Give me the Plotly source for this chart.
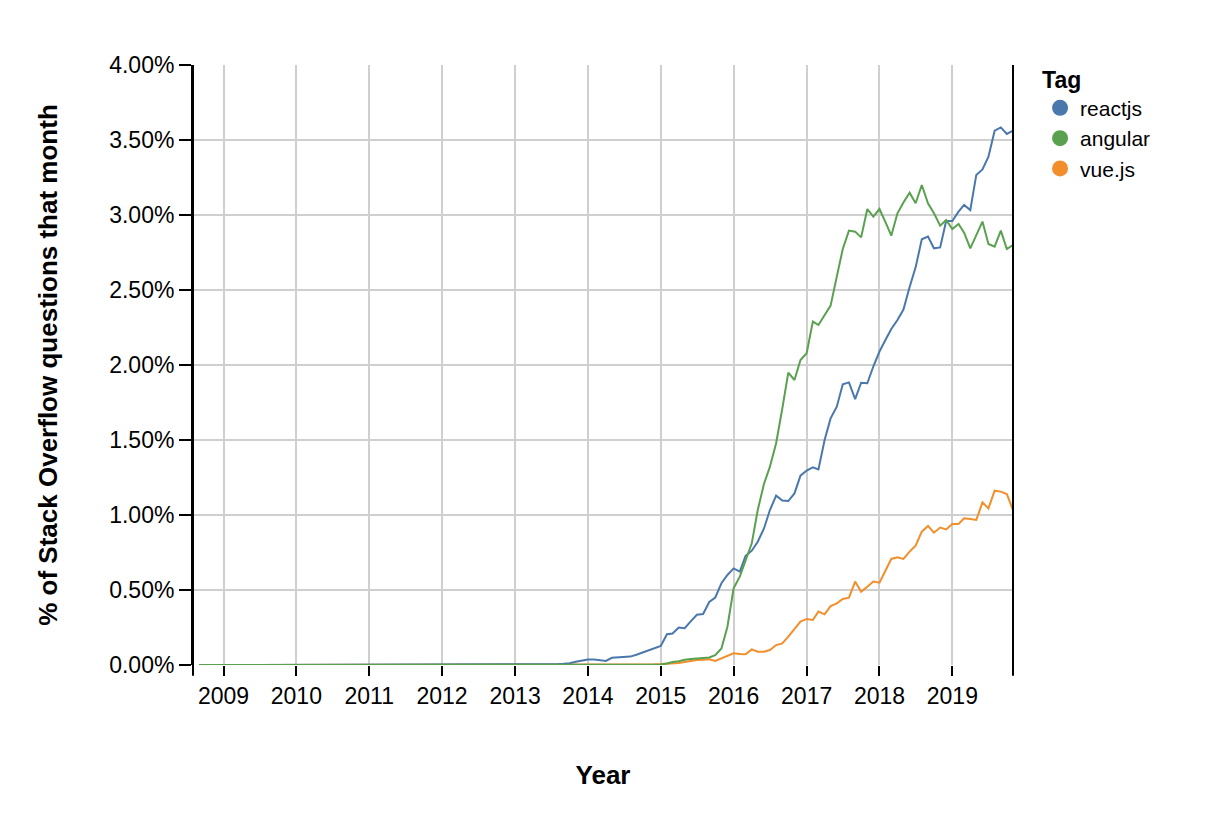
import pandas as pd
import plotly.graph_objects as go

# monthly share of Stack Overflow questions, in percent, Sep 2008 .. Nov 2019
months = pd.date_range("2008-09-01", "2019-11-01", freq="MS")

reactjs = [
    0, 0, 0, 0,  # 2008 Sep-Dec
    0, 0, 0, 0, 0, 0, 0, 0, 0, 0, 0, 0,  # 2009
    0, 0, 0, 0, 0, 0, 0, 0, 0, 0, 0, 0,  # 2010
    0, 0, 0, 0, 0, 0, 0, 0, 0, 0, 0, 0,  # 2011
    0, 0, 0, 0, 0, 0, 0, 0, 0, 0, 0, 0,  # 2012
    0, 0, 0, 0, 0.001, 0.002, 0.004, 0.005, 0.008, 0.012, 0.022, 0.030,  # 2013
    0.036, 0.036, 0.033, 0.027, 0.048, 0.052, 0.054, 0.056, 0.068, 0.082, 0.095, 0.112,  # 2014
    0.127, 0.205, 0.210, 0.250, 0.245, 0.293, 0.335, 0.340, 0.420, 0.450, 0.545, 0.600,  # 2015
    0.644, 0.622, 0.727, 0.762, 0.822, 0.910, 1.033, 1.129, 1.096, 1.093, 1.144, 1.262,  # 2016
    1.296, 1.318, 1.304, 1.500, 1.644, 1.722, 1.871, 1.884, 1.773, 1.882, 1.878, 1.990,  # 2017
    2.090, 2.170, 2.240, 2.300, 2.370, 2.520, 2.651, 2.838, 2.856, 2.778, 2.784, 2.960,  # 2018
    2.960, 3.022, 3.067, 3.033, 3.267, 3.304, 3.389, 3.562, 3.584, 3.540, 3.562,  # 2019 Jan-Nov
]

angular = [
    0, 0, 0, 0,
    0, 0, 0, 0, 0, 0, 0, 0, 0, 0, 0, 0,
    0, 0, 0, 0, 0, 0, 0, 0, 0, 0, 0, 0,
    0, 0, 0, 0, 0, 0, 0, 0, 0, 0, 0, 0,
    0, 0, 0, 0, 0, 0, 0, 0, 0, 0, 0, 0,
    0, 0, 0, 0, 0, 0, 0, 0, 0, 0, 0, 0,
    0, 0, 0, 0, 0, 0, 0, 0, 0, 0, 0, 0.001,
    0.003, 0.010, 0.020, 0.025, 0.035, 0.040, 0.042, 0.045, 0.050, 0.065, 0.110, 0.255,
    0.511, 0.589, 0.700, 0.811, 1.033, 1.207, 1.322, 1.478, 1.710, 1.949, 1.900, 2.033,
    2.078, 2.289, 2.267, 2.333, 2.396, 2.589, 2.773, 2.896, 2.889, 2.851, 3.040, 2.989,
    3.040, 2.949, 2.862, 3.011, 3.084, 3.149, 3.078, 3.200, 3.078, 3.011, 2.929, 2.967,
    2.907, 2.940, 2.882, 2.778, 2.867, 2.956, 2.807, 2.789, 2.896, 2.773, 2.800,
]

vuejs = [
    0, 0, 0, 0,
    0, 0, 0, 0, 0, 0, 0, 0, 0, 0, 0, 0,
    0, 0, 0, 0, 0, 0, 0, 0, 0, 0, 0, 0,
    0, 0, 0, 0, 0, 0, 0, 0, 0, 0, 0, 0,
    0, 0, 0, 0, 0, 0, 0, 0, 0, 0, 0, 0,
    0, 0, 0, 0, 0, 0, 0, 0, 0, 0, 0, 0,
    0.001, 0.001, 0.001, 0.002, 0.002, 0.002, 0.003, 0.003, 0.003, 0.004, 0.004, 0.005,
    0.006, 0.008, 0.010, 0.013, 0.020, 0.029, 0.033, 0.035, 0.038, 0.027, 0.044, 0.056,
    0.078, 0.073, 0.071, 0.104, 0.089, 0.089, 0.100, 0.133, 0.144, 0.189, 0.238, 0.289,
    0.307, 0.300, 0.356, 0.338, 0.393, 0.411, 0.440, 0.449, 0.556, 0.489, 0.522, 0.556,
    0.549, 0.633, 0.707, 0.718, 0.707, 0.756, 0.796, 0.889, 0.927, 0.882, 0.916, 0.904,
    0.940, 0.940, 0.978, 0.973, 0.967, 1.084, 1.044, 1.162, 1.156, 1.140, 1.033,
]

tags = ["reactjs", "angular", "vue.js"]
colors = {"reactjs": "#4a78ad", "angular": "#59a14f", "vue.js": "#f28e2c"}
series = {"reactjs": reactjs, "angular": angular, "vue.js": vuejs}

FONT = "Liberation Sans, Arial, Helvetica, sans-serif"
GRID = "#cfcfcf"

fig = go.Figure()

# draw order: vue.js below, angular on top
for tag in ["vue.js", "reactjs", "angular"]:
    fig.add_trace(
        go.Scatter(
            x=months,
            y=series[tag],
            mode="lines",
            name=tag,
            legendgroup=tag,
            showlegend=False,
            line={"color": colors[tag], "width": 2},
        )
    )

# legend entries drawn as circles
for rank, tag in enumerate(tags):
    fig.add_trace(
        go.Scatter(
            x=[None],
            y=[None],
            mode="markers",
            name=tag,
            legendgroup=tag,
            legendrank=rank + 1,
            marker={"color": colors[tag], "size": 17},
        )
    )

# black edges of the plot area, running a little below the bottom like the ticks
for xpos in (0, 1):
    fig.add_shape(
        type="line", xref="paper", yref="paper",
        x0=xpos, x1=xpos, y0=-0.018, y1=1,
        line={"color": "black", "width": 2},
    )

# the page body adds 8px around the figure, so the figure is 8px smaller each way
fig.update_layout(
    width=1212,
    height=816,
    margin={"l": 185, "r": 207, "t": 57, "b": 159},
    paper_bgcolor="white",
    plot_bgcolor="white",
    font={"family": FONT, "size": 23, "color": "black"},
    showlegend=True,
    legend={
        "title": {"text": "<b>Tag</b>", "font": {"size": 23}},
        "x": 1.033,
        "y": 1.012,
        "xanchor": "left",
        "yanchor": "top",
        "font": {"size": 21},
        "tracegroupgap": 0,
        "bgcolor": "rgba(0,0,0,0)",
    },
    xaxis={
        "type": "date",
        "range": ["2008-08-01", "2019-11-01"],
        "tick0": "2009-01-01",
        "dtick": "M12",
        "tickformat": "%Y",
        "ticks": "outside",
        "ticklen": 10,
        "tickwidth": 2,
        "tickcolor": "black",
        "showgrid": True,
        "gridcolor": GRID,
        "gridwidth": 2,
        "showline": False,
        "zeroline": False,
        "tickfont": {"size": 23},
        "title": {"text": "<b>Year</b>", "font": {"size": 26}, "standoff": 58},
    },
    yaxis={
        "range": [0, 4],
        "dtick": 0.5,
        "tickformat": ".2f",
        "ticksuffix": "%",
        "ticks": "outside",
        "ticklen": 12,
        "tickwidth": 2,
        "tickcolor": "black",
        "showgrid": True,
        "gridcolor": GRID,
        "gridwidth": 2,
        "showline": True,
        "linecolor": "black",
        "linewidth": 2,
        "zeroline": False,
        "tickfont": {"size": 23},
        "title": {
            "text": "<b>% of Stack Overflow questions that month</b>",
            "font": {"size": 26},
            "standoff": 44,
        },
    },
)

fig.write_html("out.html")
